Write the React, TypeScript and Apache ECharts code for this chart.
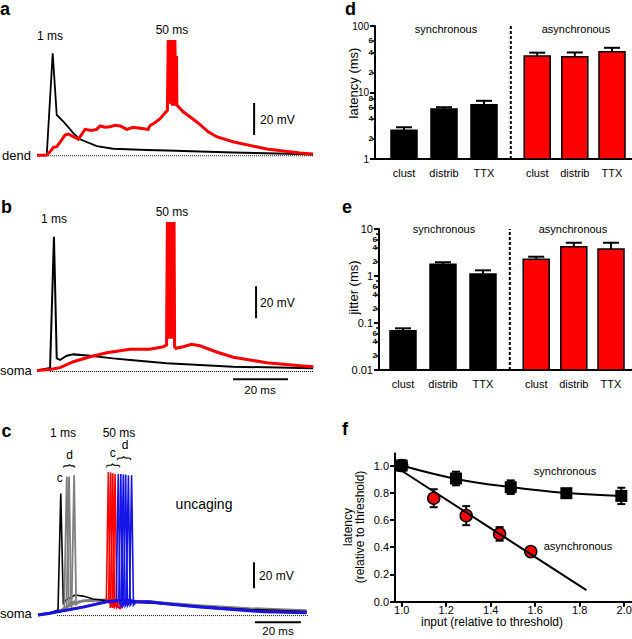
import React, { useEffect, useRef } from 'react';
import * as echarts from 'echarts';

const FONT = '"Liberation Sans", Arial, Helvetica, sans-serif';

// ---------- Panel a (dendrite), [time ms, mV] ----------
const aBlack = [[0, 0], [3.5, 0], [5.65, 63.7], [7.1, 25.2], [9.5, 21], [11.3, 17.5], [13.1, 13.7], [15.5, 10], [21.5, 5.8], [27.4, 4.1], [39.5, 3.3], [46.8, 3.0], [70.5, 1.75], [94.6, 0.8], [99.3, 0.5]];
const aRed = [[0, 0], [3.5, 0.2], [4.7, 2.2], [5.9, 5], [7.1, 5.4], [8.9, 9.6], [10.1, 12.7], [11.3, 13.3], [13.1, 11.6], [14.9, 10], [16.7, 14.7], [17.3, 16.2], [19.5, 15.5], [21.5, 16.2], [22.7, 18.3], [24.5, 17.5], [26.3, 17.9], [28, 18.8], [29.9, 18.3], [32.3, 16.2], [34.5, 17.5], [37.1, 16.9], [40, 16.2], [40.6, 18.5], [42.5, 20.5], [44.2, 22.7], [46.4, 27.2], [46.9, 28], [47.2, 72], [47.5, 33], [47.8, 72], [48.1, 32], [48.4, 72], [48.7, 31], [49.0, 72], [49.3, 31], [49.6, 72], [49.9, 32], [50.2, 62], [50.3, 31.4], [52.6, 27.2], [57.4, 21], [61.6, 14.7], [64.6, 11.6], [70.5, 8.5], [82.7, 3.9], [94.6, 1.4], [99.3, 0.8]];
const aBaseline = [[3.2, -0.3], [99.3, -0.3]];
const aScaleV = [[78.1, 12.7], [78.1, 32.7]];

// ---------- Panel b (soma) ----------
const bBlack = [[0, 0.1], [4.7, 1.7], [6.1, 83.7], [7.1, 7.7], [8.3, 6.7], [10.7, 9.4], [13.1, 10.2], [19.1, 9.4], [27.4, 7.7], [33.5, 6.7], [46.7, 4.6], [70.5, 2.5], [99.3, 1.5]];
const bRed = [[0, 0.1], [4.7, 0.7], [8.3, 1.9], [13.1, 5.6], [19.1, 8.7], [25.1, 11.2], [33.5, 13.4], [40.6, 13.4], [45.4, 15], [46.6, 16], [46.9, 93], [47.2, 20], [47.5, 93], [47.8, 20], [48.1, 93], [48.4, 20], [48.7, 93], [49.0, 20], [49.3, 93], [49.5, 15], [50, 14], [52.6, 15], [55.6, 16.5], [58.6, 15.6], [64.6, 11.7], [70.6, 8.4], [82.6, 5], [94.6, 3.1], [99.4, 2.5]];
const bBaseline = [[4.7, -0.5], [99.3, -0.5]];
const bScaleV = [[78.8, 32.8], [78.8, 52.8]];
const bScaleH = [[70.5, -5.4], [90.3, -5.4]];

// ---------- Panel c (uncaging, soma) ----------
const cBlackSlow = [[0, -0.5], [5.1, 0.8], [8.7, 3.3], [9.9, 93], [11, 8.5], [12.2, 11], [16.1, 14.8], [19.6, 14], [24, 11.8], [31.3, 10.2], [48.7, 8.7], [70.4, 6], [92.2, 3.7], [116.8, 2.2]];
const cGraySlow = [[0, -0.5], [5.1, 0.8], [10, 3], [15, 8], [20, 10.5], [30, 11], [48.7, 9.5], [70, 6.5], [92, 4.3], [116.8, 2.8]];
const cGraySpikes = [
  [[11.4, 3.5], [12.5, 106], [13.4, 7], [15, 10]],
  [[12.4, 4], [13.5, 106], [14.4, 7], [16, 10.5]],
  [[14.6, 4.5], [15.7, 107], [16.6, 7.5], [18.2, 10.5]],
];
const cRedSlow = [[0, -0.5], [5.1, 0.8], [19.7, 5.8], [29.9, 9.7], [33, 8], [35.7, 4.6], [38.6, 10.5], [48.7, 9.5], [54.5, 8.3], [69, 5.8], [83.5, 3.8], [98, 2.2], [116.8, 1.5]];
const cRedSpikes = [
  [[29.7, 9.8], [30.6, 109.5], [31.4, 5], [32.8, 9.8]],
  [[30.7, 10], [31.6, 109], [32.4, 5], [33.8, 10]],
  [[31.6, 10], [32.5, 108.5], [33.3, 5.5], [34.7, 10]],
  [[32.6, 10.2], [33.5, 108], [34.3, 5.5], [35.7, 10]],
];
const cBlueSlow = [[0, -0.5], [5.1, 0.8], [19.7, 5.5], [29.9, 9.7], [38.6, 11], [42.9, 9.5], [48.7, 9.6], [54.5, 8.3], [69, 5.8], [83.5, 3.8], [98, 2], [116.8, 1.2]];
const cBlueSpikes = [
  [[34, 10.3], [34.9, 108], [35.7, 6], [37.1, 10.5]],
  [[35.1, 10.5], [36.0, 108], [36.8, 6], [38.2, 10.5]],
  [[36.2, 10.6], [37.1, 107.5], [37.9, 6.5], [39.3, 10.6]],
  [[37.2, 10.8], [38.1, 107.5], [38.9, 6.5], [40.3, 10.6]],
  [[38.4, 10.8], [39.3, 107], [40.1, 7], [41.5, 10.5]],
  [[39.8, 10.6], [40.7, 107], [41.5, 7], [42.9, 10]],
];
const cBaseline = [[8.3, -1], [117.4, -1]];
const cScaleV = [[93.9, 20], [93.9, 40]];
const cScaleH = [[94.3, -6.2], [114.3, -6.2]];

// ---------- Panels d, e (bars) ----------
const barCategories = ['clust', 'distrib', 'TTX', 'clust', 'distrib', 'TTX'];
const barGroup = [0, 0, 0, 1, 1, 1]; // 0 synchronous, 1 asynchronous
const groupNames = ['synchronous', 'asynchronous'];
const latencyMean = [2.7, 5.65, 6.55, 35.4, 34.5, 41];
const latencyErrTop = [3.0, 6.0, 7.5, 39.7, 40, 47];
const jitterMean = [0.068, 1.77, 1.1, 2.27, 4.2, 3.75];
const jitterErrTop = [0.077, 1.96, 1.32, 2.57, 5.1, 5.1];
const dMajor = [1, 10, 100];
const dMinor = [2, 4, 6, 8, 20, 40, 60, 80];
const dLabels = [1, 2, 4, 6, 8, 10, 20, 40, 60, 80, 100];
const eMajor = [0.01, 0.1, 1, 10];
const eMinor = [0.02, 0.04, 0.06, 0.08, 0.2, 0.4, 0.6, 0.8, 2, 4, 6, 8];
const eLabels = [0.01, 0.02, 0.04, 0.06, 0.1, 0.2, 0.4, 0.6, 1, 2, 4, 6, 10];

// ---------- Panel f ----------
const syncX = [1.0, 1.244, 1.49, 1.74, 1.987];
const syncY = [1.0, 0.905, 0.841, 0.797, 0.777];
const syncErr = [0.04, 0.05, 0.05, 0.03, 0.06];
const syncFit = [[1.0, 1.0], [1.244, 0.902], [1.49, 0.842], [1.74, 0.798], [1.987, 0.777]];
const asyncX = [1.0, 1.144, 1.29, 1.44, 1.58];
const asyncY = [1.0, 0.76, 0.632, 0.498, 0.368];
const asyncErr = [0.03, 0.066, 0.07, 0.05, 0.02];
const asyncFit = [[1.0, 0.962], [1.83, 0.085]];
const fXTicks = [1.0, 1.2, 1.4, 1.6, 1.8, 2.0];
const fYTicks = [0, 0.2, 0.4, 0.6, 0.8, 1.0];

// layout (not data)
const barSlots = [1, 2, 3, 4.33, 5.27, 6.2];
const dividerSlot = 3.67;

const RED = '#ff0000';
const BLUE = '#1414e6';
const GRAY = '#7f7f7f';

function line(gi: number, data: number[][], color: string, width: number, extra: any = {}) {
  return {
    type: 'line', xAxisIndex: gi, yAxisIndex: gi, data, showSymbol: false, symbol: 'none',
    clip: false, silent: true, animation: false,
    lineStyle: { color, width, cap: 'butt', join: 'miter', ...extra },
  };
}

function T(text: string, x: number, y: number, size: number, o: any = {}) {
  return {
    type: 'text', x, y, silent: true, rotation: o.rot || 0,
    style: {
      text, fill: '#000', fontSize: size, fontFamily: FONT, fontWeight: o.weight || 'normal',
      align: o.align || 'left', verticalAlign: 'middle', lineHeight: o.lh,
    },
  };
}

function logFormatter(v: number) {
  const e = Math.log10(v);
  const re = Math.round(e);
  if (Math.abs(e - re) < 1e-6) {
    const s = re >= 0 ? String(Math.round(v)) : v.toFixed(-re);
    return '{maj|' + s + '}';
  }
  const d = Math.round(v / Math.pow(10, Math.floor(e)));
  return '{min|' + d + '}';
}

function barRender(yMin: number) {
  return (params: any, api: any) => {
    const x = api.value(0), v = api.value(1), e = api.value(2);
    const i = params.dataIndex;
    const top = api.coord([x, v]);
    const base = api.coord([x, yMin]);
    const err = api.coord([x, e]);
    const fill = barGroup[i] === 0 ? '#000' : RED;
    return {
      type: 'group', children: [
        { type: 'line', shape: { x1: top[0], y1: top[1], x2: err[0], y2: err[1] }, style: { stroke: '#000', lineWidth: 2 } },
        { type: 'line', shape: { x1: err[0] - 8, y1: err[1], x2: err[0] + 8, y2: err[1] }, style: { stroke: '#000', lineWidth: 2 } },
        { type: 'rect', shape: { x: top[0] - 13, y: top[1], width: 26, height: base[1] - top[1] }, style: { fill, stroke: '#000', lineWidth: 1.5 } },
      ],
    };
  };
}

function errRender(cap: number) {
  return (params: any, api: any) => {
    const x = api.value(0), y = api.value(1), e = api.value(2);
    const lo = api.coord([x, y - e]);
    const hi = api.coord([x, y + e]);
    const st = { stroke: '#000', lineWidth: 2 };
    return {
      type: 'group', children: [
        { type: 'line', shape: { x1: lo[0], y1: lo[1], x2: hi[0], y2: hi[1] }, style: st },
        { type: 'line', shape: { x1: lo[0] - cap, y1: lo[1], x2: lo[0] + cap, y2: lo[1] }, style: st },
        { type: 'line', shape: { x1: hi[0] - cap, y1: hi[1], x2: hi[0] + cap, y2: hi[1] }, style: st },
      ],
    };
  };
}

const axisStyle = { color: '#000', width: 2 };

function buildOption(): any {
  const hiddenX = (gi: number, min: number, max: number) => ({ gridIndex: gi, type: 'value', min, max, show: false });
  const hiddenY = hiddenX;

  const barAxisX = (gi: number, min: number, max: number) => ({
    gridIndex: gi, type: 'value', min, max,
    axisLine: { show: true, onZero: false, lineStyle: axisStyle },
    axisTick: { show: false }, splitLine: { show: false },
    axisLabel: {
      customValues: barSlots, color: '#000', fontSize: 11, fontFamily: FONT, margin: 8,
      showMinLabel: true, showMaxLabel: true,
      formatter: (v: number) => { const k = barSlots.indexOf(v); return k >= 0 ? barCategories[k] : ''; },
    },
  });
  const logAxisY = (gi: number, min: number, max: number, minor: number[], labels: number[], majSize: number) => ({
    gridIndex: gi, type: 'log', logBase: 10, min, max, position: 'left',
    axisLine: { show: true, lineStyle: axisStyle },
    axisTick: { show: true, customValues: minor, length: 3, lineStyle: { color: '#000', width: 1.5 } },
    minorTick: { show: false }, splitLine: { show: false }, minorSplitLine: { show: false },
    axisLabel: {
      customValues: labels, formatter: logFormatter, margin: 2, color: '#000', fontFamily: FONT,
      showMinLabel: true, showMaxLabel: true, hideOverlap: false,
      rich: {
        maj: { fontSize: majSize, fontFamily: FONT, color: '#000', padding: [0, 4, 0, 0] },
        min: { fontSize: 8, fontFamily: FONT, color: '#000', fontWeight: 'bold' },
      },
    },
  });
  const logMajorAxis = (gi: number, min: number, max: number, major: number[]) => ({
    gridIndex: gi, type: 'log', logBase: 10, min, max, position: 'left', offset: 0,
    axisLine: { show: false },
    axisTick: { show: true, customValues: major, length: 5, lineStyle: { color: '#000', width: 2 } },
    axisLabel: { show: false }, splitLine: { show: false }, minorTick: { show: false },
  });

  const series: any[] = [];
  // panel a
  series.push(line(0, aBaseline, '#000', 1, { type: [1, 1] }));
  series.push(line(0, aBlack, '#000', 1.8));
  series.push(line(0, aRed, RED, 3));
  series.push(line(0, aScaleV, '#000', 2));
  // panel b
  series.push(line(1, bBaseline, '#000', 1, { type: [1, 1] }));
  series.push(line(1, bBlack, '#000', 2));
  series.push(line(1, bRed, RED, 3));
  series.push(line(1, bScaleV, '#000', 2));
  series.push(line(1, bScaleH, '#000', 2));
  // panel c
  series.push(line(2, cBaseline, '#000', 1, { type: [1, 1] }));
  series.push(line(2, cGraySlow, GRAY, 3));
  series.push(line(2, cBlackSlow, '#000', 1.6));
  cGraySpikes.forEach((s) => series.push(line(2, s, GRAY, 1.8)));
  series.push(line(2, cRedSlow, RED, 2.2));
  cRedSpikes.forEach((s) => series.push(line(2, s, RED, 1.6)));
  series.push(line(2, cBlueSlow, BLUE, 3));
  cBlueSpikes.forEach((s) => series.push(line(2, s, BLUE, 1.6)));
  series.push(line(2, cScaleV, '#000', 2));
  series.push(line(2, cScaleH, '#000', 2));

  // panel d
  series.push({
    type: 'custom', xAxisIndex: 3, yAxisIndex: 3, clip: false, silent: true,
    encode: { x: 0, y: 1 },
    data: barSlots.map((x, i) => [x, latencyMean[i], latencyErrTop[i]]),
    renderItem: barRender(1),
  });
  series.push(line(3, [[dividerSlot, 1], [dividerSlot, 100]], '#000', 2, { type: [3, 2] }));
  // panel e
  series.push({
    type: 'custom', xAxisIndex: 4, yAxisIndex: 4, clip: false, silent: true,
    encode: { x: 0, y: 1 },
    data: barSlots.map((x, i) => [x, jitterMean[i], jitterErrTop[i]]),
    renderItem: barRender(0.01),
  });
  series.push(line(4, [[dividerSlot, 0.01], [dividerSlot, 10]], '#000', 2, { type: [3, 2] }));

  // panel f
  series.push(line(5, syncFit, '#000', 2, {}));
  series[series.length - 1].smooth = 0.4;
  series.push(line(5, asyncFit, '#000', 2));
  series.push({
    type: 'custom', xAxisIndex: 5, yAxisIndex: 5, clip: false, silent: true, encode: { x: 0, y: 1 },
    data: asyncX.map((x, i) => [x, asyncY[i], asyncErr[i]]), renderItem: errRender(4),
  });
  series.push({
    type: 'scatter', xAxisIndex: 5, yAxisIndex: 5, silent: true, symbol: 'circle', symbolSize: 12,
    itemStyle: { color: RED, borderColor: '#000', borderWidth: 1.5, opacity: 1 },
    data: asyncX.map((x, i) => [x, asyncY[i]]),
  });
  series.push({
    type: 'custom', xAxisIndex: 5, yAxisIndex: 5, clip: false, silent: true, encode: { x: 0, y: 1 },
    data: syncX.map((x, i) => [x, syncY[i], syncErr[i]]), renderItem: errRender(4),
  });
  series.push({
    type: 'scatter', xAxisIndex: 5, yAxisIndex: 5, silent: true, symbol: 'rect', symbolSize: 12,
    itemStyle: { color: '#000', opacity: 1 },
    data: syncX.map((x, i) => [x, syncY[i]]),
  });

  const graphic: any[] = [
    T('a', 0, 9, 18, { weight: 'bold' }),
    T('b', 1, 207, 18, { weight: 'bold' }),
    T('c', 1.5, 431, 18, { weight: 'bold' }),
    T('d', 345, 9, 18, { weight: 'bold' }),
    T('e', 342, 207, 18, { weight: 'bold' }),
    T('f', 342, 429, 18, { weight: 'bold' }),
    // panel a
    T('1 ms', 50, 36, 12, { align: 'center' }),
    T('50 ms', 172, 30, 12, { align: 'center' }),
    T('dend', 2, 155, 13),
    T('20 mV', 260, 120, 12),
    // panel b
    T('1 ms', 54, 219, 12, { align: 'center' }),
    T('50 ms', 172, 211.7, 12, { align: 'center' }),
    T('20 mV', 260, 303, 12),
    T('soma', 0, 370, 13),
    T('20 ms', 260, 390, 11.5, { align: 'center' }),
    // panel c
    T('1 ms', 63, 432.5, 12, { align: 'center' }),
    T('50 ms', 119, 432.5, 12, { align: 'center' }),
    T('d', 69.7, 455, 12, { align: 'center' }),
    T('c', 59.7, 477.5, 12, { align: 'center' }),
    T('c', 112.7, 452.5, 12, { align: 'center' }),
    T('d', 125, 445, 12, { align: 'center' }),
    T('{', 70.5, 466, 13, { align: 'center', rot: -Math.PI / 2 }),
    T('{', 113.7, 465.3, 14, { align: 'center', rot: -Math.PI / 2 }),
    T('{', 125, 458, 14, { align: 'center', rot: -Math.PI / 2 }),
    T('uncaging', 204, 504, 14, { align: 'center' }),
    T('20 mV', 259, 576, 12),
    T('soma', 0, 613.5, 13),
    T('20 ms', 278, 631, 11.5, { align: 'center' }),
    // panel d
    T(groupNames[0], 446, 29, 11, { align: 'center' }),
    T(groupNames[1], 576, 29, 11, { align: 'center' }),
    T('latency (ms)', 353, 83, 13, { align: 'center', rot: Math.PI / 2 }),
    // panel e
    T(groupNames[0], 444, 229, 11, { align: 'center' }),
    T(groupNames[1], 573, 229, 11, { align: 'center' }),
    T('jitter (ms)', 353, 287.5, 13, { align: 'center', rot: Math.PI / 2 }),
    // panel f
    T(groupNames[0], 565, 471, 11, { align: 'center' }),
    T(groupNames[1], 578, 545.7, 11, { align: 'center' }),
    T('input (relative to threshold)', 492, 622, 12, { align: 'center' }),
    T('latency\n(relative to threshold)', 354, 527, 12, { align: 'center', rot: Math.PI / 2, lh: 12 }),
  ];

  return {
    animation: false,
    backgroundColor: '#fff',
    textStyle: { fontFamily: FONT },
    grid: [
      { left: 37, top: 35.3, width: 278, height: 128, outerBoundsMode: 'none' },
      { left: 37, top: 218.7, width: 278, height: 176, outerBoundsMode: 'none' },
      { left: 38, top: 468.7, width: 276, height: 161.2, outerBoundsMode: 'none' },
      { left: 375, top: 26, width: 257, height: 133, outerBoundsMode: 'none' },
      { left: 379, top: 229, width: 253, height: 141, outerBoundsMode: 'none' },
      { left: 395, top: 453.3, width: 237, height: 148.4, outerBoundsMode: 'none' },
    ],
    xAxis: [
      hiddenX(0, 0, 100),
      hiddenX(1, 0, 100),
      hiddenX(2, 0, 120),
      barAxisX(3, 0.275, 6.7),
      barAxisX(4, 0.4, 6.725),
      {
        gridIndex: 5, type: 'value', min: 0.97, max: 2.035,
        axisLine: { show: true, onZero: false, lineStyle: axisStyle },
        axisTick: { show: true, customValues: fXTicks, length: 5, lineStyle: { color: '#000', width: 2 } },
        splitLine: { show: false },
        axisLabel: { customValues: fXTicks, showMinLabel: true, showMaxLabel: true, formatter: (v: number) => v.toFixed(1), color: '#000', fontSize: 11, fontFamily: FONT, margin: 3 },
      },
    ],
    yAxis: [
      hiddenY(0, -5, 75),
      hiddenY(1, -15, 95),
      hiddenY(2, -12, 112),
      logAxisY(3, 1, 100, dMinor, dLabels, 10),
      logAxisY(4, 0.01, 10, eMinor, eLabels, 11),
      {
        gridIndex: 5, type: 'value', min: 0, max: 1.09,
        axisLine: { show: true, onZero: false, lineStyle: axisStyle },
        axisTick: { show: true, customValues: fYTicks, length: 5, lineStyle: { color: '#000', width: 2 } },
        splitLine: { show: false },
        axisLabel: { customValues: fYTicks, showMinLabel: true, showMaxLabel: true, formatter: (v: number) => v.toFixed(1), color: '#000', fontSize: 11, fontFamily: FONT, margin: 6 },
      },
      logMajorAxis(3, 1, 100, dMajor),
      logMajorAxis(4, 0.01, 10, eMajor),
    ],
    series,
    graphic,
  };
}

export default function App() {
  const ref = useRef<HTMLDivElement>(null);
  useEffect(() => {
    const chart = echarts.init(ref.current as HTMLDivElement, null, { renderer: 'svg' });
    chart.setOption(buildOption());
    return () => chart.dispose();
  }, []);
  return <div ref={ref} style={{ position: 'absolute', left: 0, top: 0, width: 632, height: 639, background: '#fff' }} />;
}
